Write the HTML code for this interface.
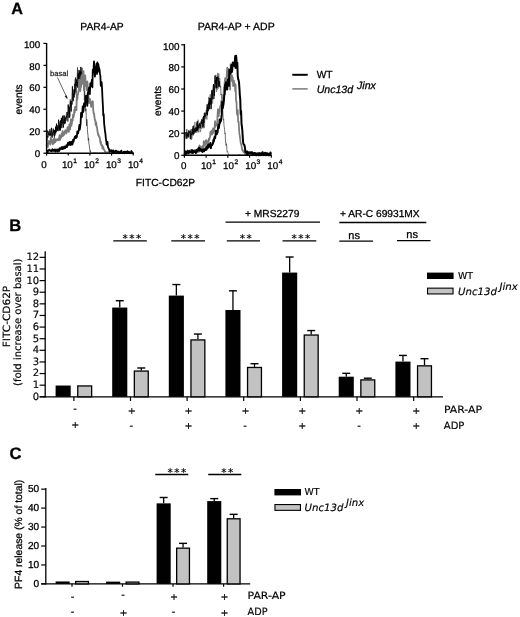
<!DOCTYPE html>
<html><head><meta charset="utf-8"><title>Figure</title>
<style>html,body{margin:0;padding:0;background:#fff}svg{display:block;will-change:transform;opacity:0.999}text{stroke:#000;stroke-width:.28px;paint-order:stroke;text-rendering:geometricPrecision}.dj text,text.dj{stroke-width:.16px}</style>
</head><body>
<svg width="520" height="617" viewBox="0 0 520 617">
<rect width="520" height="617" fill="#fff"/>
<text x="11.20" y="14.20" font-size="16.2" font-family='"Liberation Sans", Arial, sans-serif' font-weight="bold" >A</text>
<text x="9.20" y="231.10" font-size="16.6" font-family='"Liberation Sans", Arial, sans-serif' font-weight="bold" >B</text>
<text x="9.40" y="459.40" font-size="16.6" font-family='"Liberation Sans", Arial, sans-serif' font-weight="bold" >C</text>
<polyline points="46.60,135.50 46.90,134.57 47.20,135.97 47.50,137.48 47.80,136.19 48.10,137.51 48.40,134.54 48.70,130.94 49.00,135.78 49.30,136.00 49.60,132.83 49.90,133.06 50.20,133.55 50.50,136.20 50.80,133.47 51.10,131.20 51.40,136.73 51.70,134.00 52.00,137.90 52.30,135.94 52.60,137.33 52.90,132.45 53.20,135.25 53.50,130.51 53.80,130.61 54.10,131.40 54.40,138.14 54.70,132.00 55.00,130.30 55.30,129.58 55.60,134.36 55.90,130.93 56.20,132.24 56.50,131.50 56.80,125.42 57.10,130.96 57.40,128.26 57.70,125.08 58.00,129.45 58.30,127.67 58.60,126.68 58.90,126.54 59.20,130.45 59.50,125.94 59.80,121.44 60.10,130.73 60.40,122.49 60.70,124.66 61.00,126.93 61.30,117.76 61.60,121.64 61.90,128.02 62.20,123.40 62.50,121.39 62.80,123.74 63.10,120.31 63.40,122.43 63.70,119.36 64.00,116.11 64.30,123.16 64.60,119.53 64.90,121.46 65.20,118.82 65.50,123.18 65.80,120.47 66.10,118.51 66.40,113.71 66.70,112.07 67.00,120.85 67.30,118.17 67.60,111.89 67.90,121.62 68.20,114.82 68.50,112.37 68.80,105.84 69.10,107.13 69.40,110.35 69.70,109.55 70.00,108.06 70.30,99.42 70.60,106.82 70.90,105.24 71.20,101.28 71.50,102.28 71.80,101.48 72.10,104.56 72.40,98.32 72.70,99.20 73.00,90.41 73.30,91.67 73.60,93.77 73.90,89.23 74.20,92.69 74.50,84.22 74.80,88.03 75.10,83.50 75.40,91.70 75.70,82.19 76.00,92.13 76.30,93.26 76.60,83.37 76.90,85.81 77.20,79.37 77.50,67.38 77.80,83.30 78.10,81.54 78.40,76.38 78.70,74.15 79.00,77.19 79.30,76.71 79.60,71.02 79.90,71.50 80.20,79.88 80.50,74.24 80.80,73.30 81.10,79.13 81.40,71.57 81.70,77.96 82.00,67.77 82.30,72.25 82.60,72.93 82.90,77.20 83.20,75.71 83.50,87.24 83.80,84.94 84.10,82.31 84.40,100.27 84.70,90.94 85.00,107.27 85.30,100.04 85.60,111.19 85.90,108.65 86.20,115.50 86.50,125.75 86.80,119.26 87.10,121.75 87.40,129.55 87.70,133.04 88.00,135.58 88.30,140.45 88.60,138.22 88.90,143.77 89.20,144.76 89.50,147.94 89.80,149.50 90.10,151.74 90.40,150.60 90.70,152.86 91.00,152.85 91.30,153.20 91.60,153.20 91.90,153.20 92.20,153.20 92.50,153.20 92.80,153.20 93.10,153.20 93.40,153.20 93.70,153.20 94.00,152.60 94.30,153.20 94.60,153.20 94.90,153.08 95.20,152.69 95.50,153.20 95.80,153.20 96.10,153.20 96.40,153.20 96.70,152.93 97.00,153.20 97.30,153.17 97.60,153.20 97.90,153.04 98.20,153.20 98.50,153.20 98.80,153.20 99.10,153.20 99.40,152.72 99.70,153.20 100.00,153.09 100.30,153.20 100.60,153.20 100.90,153.20 101.20,152.97 101.50,153.20 101.80,153.20 102.10,153.19 102.40,152.78 102.70,152.95 103.00,153.06 103.30,153.20 103.60,153.20 103.90,152.86 104.20,152.85 104.50,153.20 104.80,153.00 105.10,152.92 105.40,152.90 105.70,152.87 106.00,153.20 106.30,152.65 106.60,153.20 106.90,152.89 107.20,153.02 107.50,152.88 107.80,152.52 108.10,152.66 108.40,153.20 108.70,153.20 109.00,152.91 109.30,153.20 109.60,153.20 109.90,152.90 110.20,153.20 110.50,153.20 110.80,153.11 111.10,153.18 111.40,153.20 111.70,153.19 112.00,153.20 112.30,153.20 112.60,153.20 112.90,153.20 113.20,153.20 113.50,153.02 113.80,153.20 114.10,153.05 114.40,153.20 114.70,153.20 115.00,153.20 115.30,153.20 115.60,153.13 115.90,153.20 116.20,153.07 116.50,153.08 116.80,152.47 117.10,153.20 117.40,152.88 117.70,153.20 118.00,153.20 118.30,153.20 118.60,153.20 118.90,152.93 119.20,153.20 119.50,153.17 119.80,153.20 120.10,152.78 120.40,153.20 120.70,153.20 121.00,153.20 121.30,153.20 121.60,153.20 121.90,153.20 122.20,152.72 122.50,153.18 122.80,153.20 123.10,153.20 123.40,152.79 123.70,153.14 124.00,153.18 124.30,153.20 124.60,153.19 124.90,152.91 125.20,153.00 125.50,153.12 125.80,153.20 126.10,153.02 126.40,153.20 126.70,152.81 127.00,153.20 127.30,153.20 127.60,153.20 127.90,153.20 128.20,152.58 128.50,152.67 128.80,153.20 129.10,152.92 129.40,153.06 129.70,153.20 130.00,153.11 130.30,153.20 130.60,153.17 130.90,153.20 131.20,153.20 131.50,153.20 131.80,152.77 132.10,153.08 132.40,153.20 132.70,152.65 133.00,153.20" fill="none" stroke="#333" stroke-width="0.75" stroke-linejoin="round"/>
<polyline points="46.60,136.67 46.90,140.83 47.20,130.50 47.50,132.18 47.80,132.18 48.10,132.80 48.40,134.37 48.70,133.91 49.00,135.22 49.30,134.94 49.60,134.01 49.90,129.33 50.20,132.10 50.50,133.80 50.80,135.22 51.10,135.18 51.40,127.78 51.70,131.06 52.00,132.24 52.30,133.36 52.60,135.64 52.90,131.99 53.20,128.64 53.50,132.62 53.80,131.84 54.10,131.59 54.40,130.24 54.70,135.81 55.00,130.96 55.30,132.86 55.60,126.64 55.90,132.14 56.20,127.22 56.50,123.66 56.80,129.82 57.10,130.57 57.40,127.47 57.70,127.88 58.00,131.18 58.30,125.64 58.60,119.68 58.90,127.70 59.20,127.22 59.50,130.06 59.80,124.72 60.10,130.29 60.40,129.51 60.70,120.23 61.00,128.22 61.30,120.37 61.60,118.37 61.90,122.94 62.20,121.51 62.50,115.78 62.80,123.86 63.10,125.01 63.40,127.56 63.70,121.54 64.00,115.27 64.30,116.85 64.60,124.11 64.90,123.30 65.20,121.38 65.50,117.59 65.80,119.19 66.10,116.87 66.40,115.83 66.70,117.72 67.00,115.94 67.30,114.18 67.60,114.79 67.90,111.49 68.20,104.51 68.50,109.26 68.80,110.72 69.10,117.88 69.40,107.15 69.70,117.32 70.00,113.82 70.30,101.82 70.60,101.45 70.90,104.65 71.20,111.50 71.50,103.63 71.80,104.09 72.10,96.10 72.40,86.35 72.70,95.96 73.00,100.16 73.30,101.18 73.60,93.96 73.90,93.48 74.20,97.47 74.50,88.84 74.80,94.62 75.10,80.03 75.40,78.75 75.70,77.57 76.00,86.08 76.30,79.42 76.60,82.55 76.90,83.35 77.20,82.31 77.50,87.45 77.80,87.66 78.10,73.24 78.40,78.69 78.70,75.51 79.00,69.95 79.30,86.45 79.60,79.87 79.90,73.29 80.20,71.62 80.50,76.19 80.80,66.95 81.10,71.86 81.40,80.77" fill="none" stroke="#000" stroke-width="0.85" stroke-linejoin="round"/>
<polyline points="46.60,145.94 47.02,143.03 47.44,143.35 47.86,146.91 48.28,141.48 48.70,142.47 49.12,141.02 49.54,143.67 49.96,143.32 50.38,144.53 50.80,138.02 51.22,142.49 51.64,139.18 52.06,142.90 52.48,141.25 52.90,144.34 53.32,141.81 53.74,139.09 54.16,143.01 54.58,138.47 55.00,139.63 55.42,142.03 55.84,140.80 56.26,140.51 56.68,139.45 57.10,140.07 57.52,140.32 57.94,138.95 58.36,140.09 58.78,140.31 59.20,137.41 59.62,135.10 60.04,139.89 60.46,136.27 60.88,137.36 61.30,137.75 61.72,133.36 62.14,136.08 62.56,131.19 62.98,136.00 63.40,132.90 63.82,133.89 64.24,134.71 64.66,131.11 65.08,132.45 65.50,130.18 65.92,131.34 66.34,133.49 66.76,130.62 67.18,129.81 67.60,127.07 68.02,131.41 68.44,128.32 68.86,131.84 69.28,124.50 69.70,128.29 70.12,129.41 70.54,123.53 70.96,119.17 71.38,125.85 71.80,123.25 72.22,120.87 72.64,120.75 73.06,114.61 73.48,117.08 73.90,115.46 74.32,109.72 74.74,112.73 75.16,106.91 75.58,110.20 76.00,109.43 76.42,110.12 76.84,94.04 77.26,99.94 77.68,95.37 78.10,94.08 78.52,90.92 78.94,89.23 79.36,79.65 79.78,90.50 80.20,91.12 80.62,87.10 81.04,86.90 81.46,76.04 81.88,75.04 82.30,82.46 82.72,83.78 83.14,78.72 83.56,71.03 83.98,90.49 84.40,75.54 84.82,83.73 85.24,75.36 85.66,85.96 86.08,83.57 86.50,90.05 86.92,89.33 87.34,81.30 87.76,85.86 88.18,93.05 88.60,97.02 89.02,103.13 89.44,98.97 89.86,98.85 90.28,100.35 90.70,101.69 91.12,106.81 91.54,104.18 91.96,105.37 92.38,101.91 92.80,101.25 93.22,109.61 93.64,113.39 94.06,113.30 94.48,117.35 94.90,120.02 95.32,120.19 95.74,125.18 96.16,122.41 96.58,126.40 97.00,127.45 97.42,130.53 97.84,133.31 98.26,135.24 98.68,135.02 99.10,137.14 99.52,136.93 99.94,138.90 100.36,142.92 100.78,141.71 101.20,145.07 101.62,144.75 102.04,145.16 102.46,148.65 102.88,146.49 103.30,147.37 103.72,148.69 104.14,149.89 104.56,150.52 104.98,151.65 105.40,151.75 105.82,152.66 106.24,152.44 106.66,153.20 107.08,152.36 107.50,152.46 107.92,152.71 108.34,152.97 108.76,152.19 109.18,153.20 109.60,152.31 110.02,152.50 110.44,152.47 110.86,152.40 111.28,153.20 111.70,152.93 112.12,152.21 112.54,152.38 112.96,152.57 113.38,153.20 113.80,152.31 114.22,151.80 114.64,151.94 115.06,152.58 115.48,153.20 115.90,152.01 116.32,152.90 116.74,153.20 117.16,152.49 117.58,153.20 118.00,153.20 118.42,153.20 118.84,151.78 119.26,153.12 119.68,152.61 120.10,151.41 120.52,151.54 120.94,152.93 121.36,153.04 121.78,153.20 122.20,153.20 122.62,152.52 123.04,152.55 123.46,152.79 123.88,152.07 124.30,153.20 124.72,152.94 125.14,152.30 125.56,152.43 125.98,152.04 126.40,152.59 126.82,153.17 127.24,152.63 127.66,153.20 128.08,153.20 128.50,152.47 128.92,152.99 129.34,152.70 129.76,153.20 130.18,153.20 130.60,153.20 131.02,153.20 131.44,153.20 131.86,153.20 132.28,152.26 132.70,152.69 133.12,153.20" fill="none" stroke="#7a7a7a" stroke-width="1.8" stroke-linejoin="round"/>
<polyline points="46.60,151.21 47.02,150.56 47.44,153.20 47.86,151.23 48.28,150.66 48.70,150.52 49.12,149.66 49.54,150.10 49.96,150.74 50.38,150.73 50.80,150.30 51.22,151.36 51.64,150.93 52.06,150.13 52.48,149.25 52.90,150.95 53.32,150.83 53.74,150.61 54.16,149.64 54.58,150.74 55.00,149.47 55.42,151.47 55.84,150.80 56.26,150.78 56.68,149.85 57.10,149.42 57.52,151.55 57.94,150.85 58.36,149.49 58.78,150.29 59.20,151.00 59.62,148.21 60.04,148.58 60.46,148.40 60.88,149.28 61.30,147.42 61.72,148.67 62.14,146.94 62.56,149.13 62.98,148.90 63.40,147.45 63.82,148.40 64.24,146.50 64.66,146.86 65.08,148.22 65.50,146.75 65.92,147.15 66.34,145.27 66.76,147.21 67.18,146.78 67.60,144.30 68.02,142.65 68.44,142.55 68.86,144.95 69.28,144.28 69.70,141.79 70.12,143.98 70.54,144.96 70.96,142.74 71.38,141.75 71.80,143.55 72.22,144.61 72.64,143.86 73.06,139.61 73.48,141.79 73.90,139.94 74.32,138.55 74.74,137.01 75.16,138.26 75.58,135.81 76.00,138.09 76.42,136.26 76.84,137.07 77.26,131.47 77.68,133.26 78.10,133.42 78.52,130.94 78.94,129.05 79.36,125.02 79.78,129.74 80.20,126.70 80.62,123.28 81.04,112.86 81.46,115.68 81.88,117.15 82.30,112.66 82.72,106.32 83.14,112.10 83.56,110.75 83.98,103.51 84.40,104.89 84.82,103.10 85.24,106.26 85.66,96.15 86.08,95.74 86.50,98.87 86.92,97.27 87.34,105.83 87.76,92.84 88.18,93.61 88.60,89.84 89.02,87.65 89.44,90.34 89.86,94.21 90.28,83.50 90.70,86.43 91.12,82.74 91.54,82.24 91.96,79.64 92.38,87.25 92.80,69.60 93.22,72.61 93.64,67.12 94.06,61.44 94.48,69.25 94.90,76.58 95.32,70.93 95.74,71.27 96.16,66.60 96.58,63.61 97.00,73.91 97.42,62.31 97.84,72.02 98.26,63.81 98.68,66.50 99.10,68.49 99.52,69.27 99.94,73.43 100.36,75.69 100.78,85.82 101.20,84.04 101.62,82.13 102.04,88.37 102.46,97.67 102.88,105.46 103.30,115.44 103.72,113.99 104.14,123.69 104.56,127.12 104.98,131.08 105.40,133.56 105.82,138.10 106.24,140.75 106.66,144.53 107.08,144.56 107.50,141.87 107.92,146.61 108.34,148.08 108.76,148.50 109.18,149.71 109.60,151.52 110.02,150.92 110.44,150.18 110.86,150.89 111.28,151.19 111.70,150.21 112.12,152.16 112.54,151.55 112.96,152.06 113.38,150.44 113.80,153.20 114.22,152.23 114.64,152.14 115.06,151.18 115.48,151.25 115.90,150.62 116.32,153.05 116.74,151.18 117.16,152.05 117.58,152.37 118.00,151.40 118.42,152.61 118.84,153.20 119.26,152.19 119.68,153.13 120.10,152.45 120.52,151.64 120.94,151.70 121.36,150.68 121.78,152.15 122.20,153.20 122.62,152.64 123.04,152.79 123.46,153.04 123.88,151.71 124.30,152.61 124.72,153.20 125.14,151.55 125.56,152.22 125.98,151.85 126.40,152.07 126.82,151.66 127.24,152.16 127.66,151.20 128.08,151.88 128.50,151.92 128.92,151.92 129.34,153.20 129.76,152.42 130.18,152.51 130.60,152.14 131.02,153.20 131.44,151.01 131.86,152.27 132.28,153.20 132.70,153.20 133.12,152.63" fill="none" stroke="#000" stroke-width="1.8" stroke-linejoin="round"/>
<line x1="46.60" y1="43.00" x2="46.60" y2="153.85" stroke="#000" stroke-width="1.4" stroke-linecap="butt"/>
<line x1="45.90" y1="153.20" x2="133.80" y2="153.20" stroke="#000" stroke-width="1.4" stroke-linecap="butt"/>
<line x1="43.40" y1="153.20" x2="46.60" y2="153.20" stroke="#000" stroke-width="1.2" stroke-linecap="butt"/>
<text x="40.20" y="156.90" font-size="9.75" font-family='"Liberation Sans", Arial, sans-serif' text-anchor="end" >0</text>
<line x1="43.40" y1="131.24" x2="46.60" y2="131.24" stroke="#000" stroke-width="1.2" stroke-linecap="butt"/>
<text x="40.20" y="134.94" font-size="9.75" font-family='"Liberation Sans", Arial, sans-serif' text-anchor="end" >20</text>
<line x1="43.40" y1="109.28" x2="46.60" y2="109.28" stroke="#000" stroke-width="1.2" stroke-linecap="butt"/>
<text x="40.20" y="112.98" font-size="9.75" font-family='"Liberation Sans", Arial, sans-serif' text-anchor="end" >40</text>
<line x1="43.40" y1="87.32" x2="46.60" y2="87.32" stroke="#000" stroke-width="1.2" stroke-linecap="butt"/>
<text x="40.20" y="91.32" font-size="9.75" font-family='"Liberation Sans", Arial, sans-serif' text-anchor="end" >60</text>
<line x1="43.40" y1="65.36" x2="46.60" y2="65.36" stroke="#000" stroke-width="1.2" stroke-linecap="butt"/>
<text x="40.20" y="69.86" font-size="9.75" font-family='"Liberation Sans", Arial, sans-serif' text-anchor="end" >80</text>
<line x1="43.40" y1="43.40" x2="46.60" y2="43.40" stroke="#000" stroke-width="1.2" stroke-linecap="butt"/>
<text x="40.20" y="48.40" font-size="9.75" font-family='"Liberation Sans", Arial, sans-serif' text-anchor="end" >100</text>
<line x1="46.60" y1="153.20" x2="46.60" y2="155.60" stroke="#000" stroke-width="1.2" stroke-linecap="butt"/>
<text x="44.10" y="168.00" font-size="9.8" font-family='"Liberation Sans", Arial, sans-serif' text-anchor="middle" >0</text>
<line x1="68.25" y1="153.20" x2="68.25" y2="155.60" stroke="#000" stroke-width="1.2" stroke-linecap="butt"/>
<text x="61.90" y="168.00" font-size="9.8" font-family='"Liberation Sans", Arial, sans-serif'>10<tspan font-size="6.6" dx="0.5" dy="-5.4">1</tspan></text>
<line x1="89.90" y1="153.20" x2="89.90" y2="155.60" stroke="#000" stroke-width="1.2" stroke-linecap="butt"/>
<text x="83.90" y="168.00" font-size="9.8" font-family='"Liberation Sans", Arial, sans-serif'>10<tspan font-size="6.6" dx="0.5" dy="-5.4">2</tspan></text>
<line x1="111.55" y1="153.20" x2="111.55" y2="155.60" stroke="#000" stroke-width="1.2" stroke-linecap="butt"/>
<text x="105.90" y="168.00" font-size="9.8" font-family='"Liberation Sans", Arial, sans-serif'>10<tspan font-size="6.6" dx="0.5" dy="-5.4">3</tspan></text>
<line x1="133.20" y1="153.20" x2="133.20" y2="155.60" stroke="#000" stroke-width="1.2" stroke-linecap="butt"/>
<text x="127.90" y="168.00" font-size="9.8" font-family='"Liberation Sans", Arial, sans-serif'>10<tspan font-size="6.6" dx="0.5" dy="-5.4">4</tspan></text>
<text x="102.00" y="29.60" font-size="10.3" font-family='"Liberation Sans", Arial, sans-serif' text-anchor="middle" >PAR4-AP</text>
<text transform="translate(21.5,99.40) rotate(-90)" font-size="10.2" font-family='"Liberation Sans", Arial, sans-serif' text-anchor="middle">events</text>
<text x="50.00" y="76.30" font-size="7.6" font-family='"Liberation Sans", Arial, sans-serif' fill="#222" style="stroke:#222;stroke-width:.25px">basal</text>
<line x1="57.50" y1="77.50" x2="67.00" y2="98.00" stroke="#222" stroke-width="0.7" stroke-linecap="butt"/>
<polygon points="67.6,99.4 64.6,96.2 66.9,95.2" fill="#222"/>
<polyline points="184.40,136.39 184.70,137.71 185.00,135.71 185.30,137.28 185.60,134.38 185.90,137.23 186.20,135.50 186.50,132.97 186.80,129.08 187.10,137.40 187.40,135.99 187.70,136.76 188.00,132.75 188.30,137.25 188.60,135.53 188.90,134.27 189.20,136.37 189.50,136.13 189.80,134.76 190.10,138.56 190.40,136.77 190.70,134.02 191.00,132.43 191.30,133.06 191.60,136.86 191.90,133.36 192.20,129.97 192.50,130.37 192.80,131.79 193.10,133.68 193.40,129.59 193.70,132.54 194.00,133.90 194.30,132.77 194.60,126.70 194.90,129.74 195.20,127.08 195.50,131.22 195.80,127.28 196.10,131.19 196.40,129.83 196.70,122.55 197.00,126.98 197.30,130.21 197.60,128.86 197.90,127.47 198.20,124.78 198.50,129.18 198.80,132.38 199.10,128.07 199.40,126.98 199.70,126.45 200.00,122.78 200.30,125.33 200.60,123.65 200.90,128.84 201.20,122.93 201.50,119.11 201.80,122.62 202.10,123.47 202.40,123.11 202.70,117.58 203.00,125.08 203.30,121.97 203.60,119.57 203.90,118.03 204.20,121.07 204.50,118.08 204.80,119.05 205.10,116.75 205.40,116.55 205.70,118.91 206.00,114.16 206.30,110.07 206.60,115.39 206.90,111.88 207.20,107.66 207.50,112.98 207.80,107.65 208.10,111.31 208.40,102.44 208.70,97.19 209.00,97.35 209.30,104.87 209.60,100.38 209.90,101.87 210.20,101.09 210.50,94.62 210.80,104.94 211.10,94.72 211.40,98.18 211.70,91.43 212.00,95.41 212.30,98.00 212.60,93.22 212.90,90.41 213.20,92.40 213.50,89.59 213.80,92.94 214.10,98.90 214.40,85.07 214.70,85.09 215.00,86.63 215.30,86.15 215.60,81.07 215.90,86.81 216.20,87.10 216.50,83.98 216.80,76.97 217.10,87.87 217.40,75.71 217.70,83.50 218.00,85.11 218.30,73.88 218.60,80.72 218.90,86.81 219.20,83.17 219.50,78.00 219.80,78.37 220.10,87.38 220.40,85.58 220.70,86.23 221.00,95.02 221.30,93.94 221.60,98.56 221.90,103.56 222.20,106.39 222.50,107.55 222.80,111.41 223.10,117.12 223.40,120.31 223.70,119.33 224.00,125.79 224.30,127.28 224.60,129.38 224.90,133.78 225.20,132.96 225.50,142.36 225.80,142.00 226.10,145.76 226.40,143.73 226.70,145.56 227.00,151.86 227.30,151.82 227.60,151.48 227.90,152.73 228.20,153.44 228.50,154.51 228.80,154.92 229.10,155.10 229.40,155.30 229.70,154.99 230.00,155.30 230.30,155.11 230.60,155.30 230.90,155.01 231.20,155.30 231.50,155.30 231.80,155.19 232.10,155.30 232.40,155.30 232.70,155.30 233.00,155.30 233.30,155.15 233.60,154.99 233.90,155.30 234.20,154.98 234.50,155.29 234.80,155.30 235.10,155.13 235.40,154.98 235.70,155.30 236.00,155.30 236.30,155.30 236.60,155.27 236.90,155.30 237.20,154.99 237.50,155.30 237.80,155.16 238.10,155.30 238.40,155.19 238.70,155.18 239.00,155.30 239.30,154.69 239.60,155.19 239.90,154.76 240.20,155.01 240.50,155.30 240.80,155.30 241.10,155.17 241.40,155.28 241.70,155.29 242.00,155.30 242.30,155.30 242.60,155.30 242.90,155.30 243.20,155.19 243.50,155.30 243.80,155.30 244.10,155.30 244.40,155.22 244.70,155.30 245.00,155.30 245.30,155.30 245.60,155.30 245.90,155.30 246.20,154.82 246.50,155.30 246.80,155.10 247.10,155.30 247.40,155.21 247.70,155.30 248.00,155.30 248.30,155.13 248.60,154.77 248.90,155.24 249.20,155.26 249.50,155.30 249.80,155.12 250.10,155.30 250.40,155.05 250.70,155.30 251.00,154.77 251.30,155.30 251.60,155.30 251.90,155.03 252.20,155.30 252.50,155.30 252.80,155.30 253.10,155.30 253.40,155.26 253.70,154.56 254.00,154.95 254.30,155.30 254.60,155.30 254.90,155.30 255.20,155.00 255.50,155.30 255.80,155.30 256.10,155.03 256.40,155.04 256.70,155.30 257.00,155.30 257.30,155.30 257.60,155.30 257.90,155.30 258.20,155.07 258.50,155.30 258.80,155.15 259.10,154.73 259.40,154.95 259.70,155.30 260.00,155.04 260.30,154.95 260.60,155.30 260.90,155.30 261.20,155.30 261.50,155.30 261.80,154.85 262.10,155.30 262.40,155.30 262.70,155.30 263.00,155.30 263.30,155.25 263.60,155.22 263.90,155.30 264.20,154.96 264.50,155.30 264.80,155.30 265.10,155.30 265.40,155.26 265.70,155.23 266.00,155.30 266.30,155.30 266.60,155.06 266.90,155.19 267.20,155.30 267.50,154.68 267.80,154.60 268.10,155.30 268.40,155.21 268.70,154.54 269.00,155.06 269.30,155.23 269.60,155.30 269.90,155.30 270.20,155.30 270.50,155.30 270.80,155.07 271.10,155.30" fill="none" stroke="#444" stroke-width="0.75" stroke-linejoin="round"/>
<polyline points="184.40,137.50 184.70,139.66 185.00,136.07 185.30,138.49 185.60,136.21 185.90,132.37 186.20,134.29 186.50,133.73 186.80,134.05 187.10,134.83 187.40,135.28 187.70,135.71 188.00,132.27 188.30,137.88 188.60,130.18 188.90,134.09 189.20,136.36 189.50,135.35 189.80,135.75 190.10,132.88 190.40,135.50 190.70,129.31 191.00,135.33 191.30,139.99 191.60,134.78 191.90,138.79 192.20,132.12 192.50,128.28 192.80,129.43 193.10,135.87 193.40,133.78 193.70,125.05 194.00,129.78 194.30,130.66 194.60,126.90 194.90,121.94 195.20,125.69 195.50,129.47 195.80,128.54 196.10,127.45 196.40,131.54 196.70,132.92 197.00,128.86 197.30,132.19 197.60,128.85 197.90,128.02 198.20,119.75 198.50,130.88 198.80,128.00 199.10,127.89 199.40,125.44 199.70,122.94 200.00,128.29 200.30,129.25 200.60,132.03 200.90,129.14 201.20,123.42 201.50,124.99 201.80,128.69 202.10,125.64 202.40,123.45 202.70,120.97 203.00,124.61 203.30,122.63 203.60,128.26 203.90,124.99 204.20,113.10 204.50,128.05 204.80,119.56 205.10,116.21 205.40,117.72 205.70,118.60 206.00,114.35 206.30,113.09 206.60,112.42 206.90,119.57 207.20,110.69 207.50,113.13 207.80,110.87 208.10,106.38 208.40,103.55 208.70,101.43 209.00,107.30 209.30,99.52 209.60,97.40 209.90,96.68 210.20,94.52 210.50,101.37 210.80,100.66 211.10,94.65 211.40,105.05 211.70,95.98 212.00,98.96 212.30,97.22 212.60,103.65 212.90,98.24 213.20,92.66 213.50,86.80 213.80,85.30 214.10,90.27 214.40,89.98 214.70,92.75 215.00,85.01 215.30,87.85 215.60,82.16 215.90,74.74 216.20,84.15 216.50,91.83 216.80,87.34 217.10,90.17 217.40,88.15 217.70,72.89 218.00,78.74 218.30,88.68 218.60,76.41 218.90,73.49 219.20,83.66 219.50,86.14" fill="none" stroke="#777" stroke-width="0.8" stroke-linejoin="round"/>
<polyline points="184.40,136.96 184.70,135.40 185.00,134.44 185.30,133.05 185.60,132.84 185.90,132.76 186.20,132.21 186.50,133.72 186.80,138.76 187.10,135.33 187.40,134.14 187.70,135.67 188.00,132.45 188.30,135.36 188.60,136.59 188.90,130.71 189.20,132.38 189.50,133.26 189.80,131.33 190.10,130.78 190.40,132.35 190.70,139.10 191.00,134.48 191.30,133.74 191.60,134.87 191.90,131.69 192.20,128.97 192.50,133.03 192.80,134.49 193.10,126.19 193.40,132.39 193.70,134.23 194.00,130.24 194.30,129.57 194.60,132.34 194.90,128.24 195.20,131.42 195.50,132.39 195.80,129.29 196.10,127.53 196.40,131.10 196.70,128.34 197.00,129.29 197.30,121.23 197.60,130.55 197.90,124.59 198.20,128.24 198.50,128.18 198.80,125.56 199.10,124.81 199.40,123.49 199.70,125.84 200.00,128.19 200.30,127.75 200.60,124.51 200.90,124.03 201.20,121.41 201.50,123.95 201.80,121.79 202.10,119.77 202.40,123.08 202.70,127.37 203.00,125.84 203.30,126.02 203.60,116.09 203.90,122.97 204.20,115.83 204.50,117.20 204.80,112.66 205.10,113.88 205.40,116.46 205.70,115.77 206.00,113.80 206.30,112.47 206.60,113.88 206.90,111.15 207.20,104.32 207.50,115.24 207.80,107.37 208.10,110.75 208.40,105.91 208.70,102.64 209.00,105.11 209.30,101.13 209.60,109.22 209.90,98.10 210.20,103.81 210.50,98.21 210.80,99.06 211.10,109.10 211.40,100.99 211.70,96.19 212.00,89.89 212.30,94.09 212.60,93.30 212.90,99.29 213.20,86.59 213.50,84.06 213.80,90.61 214.10,90.76 214.40,95.86 214.70,84.29 215.00,75.56 215.30,83.32 215.60,80.08 215.90,82.40 216.20,88.34 216.50,77.17 216.80,87.86 217.10,82.56 217.40,79.84 217.70,76.59 218.00,78.19 218.30,77.87 218.60,83.75 218.90,86.76 219.20,81.27 219.50,85.38" fill="none" stroke="#000" stroke-width="0.9" stroke-linejoin="round"/>
<polyline points="184.40,153.68 184.82,153.60 185.24,152.87 185.66,154.04 186.08,153.55 186.50,153.77 186.92,152.05 187.34,151.78 187.76,150.23 188.18,153.47 188.60,152.65 189.02,151.07 189.44,152.11 189.86,152.16 190.28,150.11 190.70,152.07 191.12,152.84 191.54,152.96 191.96,151.24 192.38,151.21 192.80,152.88 193.22,152.40 193.64,150.64 194.06,150.41 194.48,151.58 194.90,149.99 195.32,149.87 195.74,152.44 196.16,150.55 196.58,149.51 197.00,150.54 197.42,152.34 197.84,149.86 198.26,148.36 198.68,147.10 199.10,151.88 199.52,145.32 199.94,150.17 200.36,147.16 200.78,146.59 201.20,146.75 201.62,147.75 202.04,149.30 202.46,146.21 202.88,147.79 203.30,150.22 203.72,141.18 204.14,144.13 204.56,141.76 204.98,145.97 205.40,141.33 205.82,140.60 206.24,140.08 206.66,142.31 207.08,143.93 207.50,141.26 207.92,144.73 208.34,143.10 208.76,138.68 209.18,140.35 209.60,137.88 210.02,137.08 210.44,131.71 210.86,132.44 211.28,134.63 211.70,130.58 212.12,134.52 212.54,132.44 212.96,128.23 213.38,132.93 213.80,129.40 214.22,131.31 214.64,126.36 215.06,121.04 215.48,126.91 215.90,123.08 216.32,125.23 216.74,124.61 217.16,123.49 217.58,113.50 218.00,108.98 218.42,113.63 218.84,116.21 219.26,109.90 219.68,112.04 220.10,106.14 220.52,105.91 220.94,103.90 221.36,100.60 221.78,103.13 222.20,100.45 222.62,103.19 223.04,94.86 223.46,95.88 223.88,87.25 224.30,88.15 224.72,81.58 225.14,78.10 225.56,84.84 225.98,80.55 226.40,80.81 226.82,72.56 227.24,67.69 227.66,71.34 228.08,77.01 228.50,68.82 228.92,83.10 229.34,69.33 229.76,79.71 230.18,89.71 230.60,64.18 231.02,68.96 231.44,80.94 231.86,75.11 232.28,77.11 232.70,77.24 233.12,86.11 233.54,84.00 233.96,80.54 234.38,84.60 234.80,83.36 235.22,91.12 235.64,84.75 236.06,101.21 236.48,101.42 236.90,113.49 237.32,114.89 237.74,110.14 238.16,121.86 238.58,121.56 239.00,127.58 239.42,134.23 239.84,135.85 240.26,139.61 240.68,142.91 241.10,144.14 241.52,145.64 241.94,148.74 242.36,150.36 242.78,150.12 243.20,151.81 243.62,152.13 244.04,151.19 244.46,152.87 244.88,153.78 245.30,154.09 245.72,154.85 246.14,155.08 246.56,155.24 246.98,154.76 247.40,154.79 247.82,153.84 248.24,154.79 248.66,154.63 249.08,155.30 249.50,153.14 249.92,154.08 250.34,153.04 250.76,153.86 251.18,153.31 251.60,154.74 252.02,153.96 252.44,152.34 252.86,155.30 253.28,153.61 253.70,153.19 254.12,154.25 254.54,153.98 254.96,153.56 255.38,155.17 255.80,154.29 256.22,155.30 256.64,155.22 257.06,155.18 257.48,154.79 257.90,154.55 258.32,154.31 258.74,155.30 259.16,153.04 259.58,153.74 260.00,154.11 260.42,155.03 260.84,154.82 261.26,154.29 261.68,154.41 262.10,155.30 262.52,154.16 262.94,152.34 263.36,155.30 263.78,153.97 264.20,154.50 264.62,154.92 265.04,153.68 265.46,155.30 265.88,154.71 266.30,153.63 266.72,155.03 267.14,155.23 267.56,154.79 267.98,155.27 268.40,153.60 268.82,155.30 269.24,154.19 269.66,155.30 270.08,154.38 270.50,155.04 270.92,155.30" fill="none" stroke="#7a7a7a" stroke-width="1.7" stroke-linejoin="round"/>
<polyline points="184.40,153.10 184.82,153.92 185.24,153.33 185.66,151.59 186.08,153.77 186.50,153.67 186.92,151.43 187.34,152.52 187.76,151.18 188.18,152.20 188.60,153.23 189.02,152.42 189.44,151.14 189.86,151.33 190.28,152.15 190.70,152.04 191.12,152.13 191.54,152.53 191.96,149.96 192.38,151.81 192.80,152.91 193.22,152.18 193.64,150.87 194.06,150.88 194.48,151.63 194.90,152.13 195.32,151.28 195.74,153.03 196.16,152.53 196.58,150.08 197.00,151.41 197.42,150.33 197.84,149.23 198.26,149.78 198.68,150.41 199.10,147.76 199.52,149.40 199.94,150.54 200.36,149.08 200.78,149.37 201.20,150.86 201.62,149.58 202.04,149.77 202.46,152.02 202.88,149.57 203.30,149.61 203.72,149.71 204.14,151.24 204.56,149.39 204.98,148.85 205.40,148.55 205.82,150.03 206.24,147.21 206.66,149.62 207.08,147.87 207.50,145.23 207.92,148.02 208.34,147.45 208.76,144.61 209.18,146.68 209.60,146.17 210.02,144.85 210.44,142.95 210.86,148.29 211.28,145.42 211.70,145.34 212.12,145.08 212.54,144.23 212.96,143.38 213.38,140.08 213.80,141.59 214.22,138.43 214.64,136.78 215.06,138.38 215.48,135.37 215.90,130.67 216.32,132.87 216.74,134.30 217.16,131.65 217.58,132.51 218.00,127.83 218.42,124.68 218.84,128.09 219.26,124.87 219.68,119.40 220.10,122.91 220.52,119.31 220.94,121.06 221.36,117.81 221.78,114.15 222.20,101.95 222.62,108.50 223.04,106.48 223.46,104.34 223.88,100.52 224.30,94.93 224.72,94.47 225.14,84.38 225.56,89.80 225.98,82.56 226.40,85.62 226.82,82.21 227.24,89.39 227.66,81.57 228.08,79.50 228.50,78.60 228.92,85.86 229.34,69.88 229.76,74.20 230.18,72.92 230.60,70.77 231.02,69.36 231.44,64.95 231.86,72.00 232.28,69.23 232.70,62.57 233.12,62.77 233.54,64.87 233.96,65.34 234.38,66.14 234.80,61.69 235.22,56.04 235.64,68.02 236.06,55.63 236.48,59.71 236.90,66.86 237.32,62.63 237.74,75.82 238.16,79.15 238.58,80.02 239.00,82.18 239.42,88.15 239.84,95.29 240.26,99.31 240.68,114.10 241.10,111.09 241.52,123.81 241.94,126.48 242.36,130.86 242.78,137.71 243.20,142.98 243.62,144.40 244.04,144.38 244.46,145.27 244.88,147.25 245.30,151.11 245.72,152.29 246.14,152.67 246.56,151.62 246.98,154.18 247.40,151.55 247.82,153.30 248.24,153.83 248.66,152.95 249.08,152.41 249.50,153.00 249.92,152.44 250.34,153.22 250.76,152.35 251.18,152.37 251.60,153.49 252.02,152.26 252.44,153.33 252.86,153.42 253.28,154.28 253.70,153.78 254.12,152.94 254.54,154.68 254.96,153.09 255.38,153.37 255.80,153.45 256.22,155.30 256.64,153.82 257.06,153.23 257.48,154.41 257.90,153.74 258.32,155.30 258.74,153.32 259.16,154.44 259.58,153.21 260.00,155.30 260.42,153.41 260.84,154.19 261.26,153.35 261.68,154.78 262.10,154.55 262.52,152.22 262.94,154.76 263.36,154.67 263.78,154.34 264.20,154.97 264.62,153.17 265.04,152.75 265.46,154.76 265.88,155.30 266.30,153.25 266.72,153.32 267.14,153.57 267.56,153.32 267.98,154.99 268.40,154.44 268.82,155.30 269.24,155.30 269.66,153.55 270.08,154.92 270.50,152.52 270.92,154.34" fill="none" stroke="#000" stroke-width="2.0" stroke-linejoin="round"/>
<line x1="184.40" y1="44.00" x2="184.40" y2="155.95" stroke="#000" stroke-width="1.4" stroke-linecap="butt"/>
<line x1="183.70" y1="155.30" x2="271.88" y2="155.30" stroke="#000" stroke-width="1.4" stroke-linecap="butt"/>
<line x1="181.20" y1="155.30" x2="184.40" y2="155.30" stroke="#000" stroke-width="1.2" stroke-linecap="butt"/>
<text x="179.40" y="159.00" font-size="9.9" font-family='"Liberation Sans", Arial, sans-serif' text-anchor="end" >0</text>
<line x1="181.20" y1="133.20" x2="184.40" y2="133.20" stroke="#000" stroke-width="1.2" stroke-linecap="butt"/>
<text x="179.40" y="136.90" font-size="9.9" font-family='"Liberation Sans", Arial, sans-serif' text-anchor="end" >20</text>
<line x1="181.20" y1="111.10" x2="184.40" y2="111.10" stroke="#000" stroke-width="1.2" stroke-linecap="butt"/>
<text x="179.40" y="114.80" font-size="9.9" font-family='"Liberation Sans", Arial, sans-serif' text-anchor="end" >40</text>
<line x1="181.20" y1="89.00" x2="184.40" y2="89.00" stroke="#000" stroke-width="1.2" stroke-linecap="butt"/>
<text x="179.40" y="92.70" font-size="9.9" font-family='"Liberation Sans", Arial, sans-serif' text-anchor="end" >60</text>
<line x1="181.20" y1="66.90" x2="184.40" y2="66.90" stroke="#000" stroke-width="1.2" stroke-linecap="butt"/>
<text x="179.40" y="71.00" font-size="9.9" font-family='"Liberation Sans", Arial, sans-serif' text-anchor="end" >80</text>
<line x1="181.20" y1="44.80" x2="184.40" y2="44.80" stroke="#000" stroke-width="1.2" stroke-linecap="butt"/>
<text x="179.40" y="50.40" font-size="9.9" font-family='"Liberation Sans", Arial, sans-serif' text-anchor="end" >100</text>
<line x1="184.40" y1="155.30" x2="184.40" y2="157.70" stroke="#000" stroke-width="1.2" stroke-linecap="butt"/>
<text x="183.75" y="169.40" font-size="9.8" font-family='"Liberation Sans", Arial, sans-serif' text-anchor="middle" >0</text>
<line x1="206.12" y1="155.30" x2="206.12" y2="157.70" stroke="#000" stroke-width="1.2" stroke-linecap="butt"/>
<text x="200.90" y="169.40" font-size="9.8" font-family='"Liberation Sans", Arial, sans-serif'>10<tspan font-size="6.6" dx="0.5" dy="-5.4">1</tspan></text>
<line x1="227.84" y1="155.30" x2="227.84" y2="157.70" stroke="#000" stroke-width="1.2" stroke-linecap="butt"/>
<text x="223.05" y="169.40" font-size="9.8" font-family='"Liberation Sans", Arial, sans-serif'>10<tspan font-size="6.6" dx="0.5" dy="-5.4">2</tspan></text>
<line x1="249.56" y1="155.30" x2="249.56" y2="157.70" stroke="#000" stroke-width="1.2" stroke-linecap="butt"/>
<text x="245.20" y="169.40" font-size="9.8" font-family='"Liberation Sans", Arial, sans-serif'>10<tspan font-size="6.6" dx="0.5" dy="-5.4">3</tspan></text>
<line x1="271.28" y1="155.30" x2="271.28" y2="157.70" stroke="#000" stroke-width="1.2" stroke-linecap="butt"/>
<text x="267.35" y="169.40" font-size="9.8" font-family='"Liberation Sans", Arial, sans-serif'>10<tspan font-size="6.6" dx="0.5" dy="-5.4">4</tspan></text>
<text x="236.20" y="29.50" font-size="10.5" font-family='"Liberation Sans", Arial, sans-serif' text-anchor="middle" >PAR4-AP + ADP</text>
<text transform="translate(161.3,100.95) rotate(-90)" font-size="10.2" font-family='"Liberation Sans", Arial, sans-serif' text-anchor="middle">events</text>
<text x="135.80" y="185.80" font-size="10.25" font-family='"Liberation Sans", Arial, sans-serif' >FITC-CD62P</text>
<line x1="292.30" y1="74.80" x2="307.70" y2="74.80" stroke="#000" stroke-width="2.0" stroke-linecap="butt"/>
<line x1="292.30" y1="88.90" x2="307.70" y2="88.90" stroke="#707070" stroke-width="1.4" stroke-linecap="butt"/>
<text x="316.70" y="78.00" font-size="10.2" font-family='"Liberation Sans", Arial, sans-serif' >WT</text>
<text x="316.7" y="93.3" font-size="10.55" font-style="italic" font-family='"Liberation Sans", Arial, sans-serif'>Unc13d<tspan dx="4.0" dy="-4.3">Jinx</tspan></text>
<line x1="45.20" y1="251.20" x2="45.20" y2="397.45" stroke="#000" stroke-width="1.3" stroke-linecap="butt"/>
<line x1="39.60" y1="396.80" x2="443.00" y2="396.80" stroke="#000" stroke-width="1.3" stroke-linecap="butt"/>
<line x1="39.60" y1="396.80" x2="45.20" y2="396.80" stroke="#000" stroke-width="1.2" stroke-linecap="butt"/>
<text x="39.20" y="399.70" font-size="10" font-family='"DejaVu Sans", Verdana, sans-serif' text-anchor="end" class="dj">0</text>
<line x1="39.60" y1="385.18" x2="45.20" y2="385.18" stroke="#000" stroke-width="1.2" stroke-linecap="butt"/>
<text x="39.20" y="388.08" font-size="10" font-family='"DejaVu Sans", Verdana, sans-serif' text-anchor="end" class="dj">1</text>
<line x1="39.60" y1="373.56" x2="45.20" y2="373.56" stroke="#000" stroke-width="1.2" stroke-linecap="butt"/>
<text x="39.20" y="376.46" font-size="10" font-family='"DejaVu Sans", Verdana, sans-serif' text-anchor="end" class="dj">2</text>
<line x1="39.60" y1="361.94" x2="45.20" y2="361.94" stroke="#000" stroke-width="1.2" stroke-linecap="butt"/>
<text x="39.20" y="364.84" font-size="10" font-family='"DejaVu Sans", Verdana, sans-serif' text-anchor="end" class="dj">3</text>
<line x1="39.60" y1="350.32" x2="45.20" y2="350.32" stroke="#000" stroke-width="1.2" stroke-linecap="butt"/>
<text x="39.20" y="353.22" font-size="10" font-family='"DejaVu Sans", Verdana, sans-serif' text-anchor="end" class="dj">4</text>
<line x1="39.60" y1="338.70" x2="45.20" y2="338.70" stroke="#000" stroke-width="1.2" stroke-linecap="butt"/>
<text x="39.20" y="341.60" font-size="10" font-family='"DejaVu Sans", Verdana, sans-serif' text-anchor="end" class="dj">5</text>
<line x1="39.60" y1="327.08" x2="45.20" y2="327.08" stroke="#000" stroke-width="1.2" stroke-linecap="butt"/>
<text x="39.20" y="329.98" font-size="10" font-family='"DejaVu Sans", Verdana, sans-serif' text-anchor="end" class="dj">6</text>
<line x1="39.60" y1="315.46" x2="45.20" y2="315.46" stroke="#000" stroke-width="1.2" stroke-linecap="butt"/>
<text x="39.20" y="318.36" font-size="10" font-family='"DejaVu Sans", Verdana, sans-serif' text-anchor="end" class="dj">7</text>
<line x1="39.60" y1="303.84" x2="45.20" y2="303.84" stroke="#000" stroke-width="1.2" stroke-linecap="butt"/>
<text x="39.20" y="306.74" font-size="10" font-family='"DejaVu Sans", Verdana, sans-serif' text-anchor="end" class="dj">8</text>
<line x1="39.60" y1="292.22" x2="45.20" y2="292.22" stroke="#000" stroke-width="1.2" stroke-linecap="butt"/>
<text x="39.20" y="295.12" font-size="10" font-family='"DejaVu Sans", Verdana, sans-serif' text-anchor="end" class="dj">9</text>
<line x1="39.60" y1="280.60" x2="45.20" y2="280.60" stroke="#000" stroke-width="1.2" stroke-linecap="butt"/>
<text x="39.20" y="283.50" font-size="10" font-family='"DejaVu Sans", Verdana, sans-serif' text-anchor="end" class="dj">10</text>
<line x1="39.60" y1="268.98" x2="45.20" y2="268.98" stroke="#000" stroke-width="1.2" stroke-linecap="butt"/>
<text x="39.20" y="271.88" font-size="10" font-family='"DejaVu Sans", Verdana, sans-serif' text-anchor="end" class="dj">11</text>
<line x1="39.60" y1="257.36" x2="45.20" y2="257.36" stroke="#000" stroke-width="1.2" stroke-linecap="butt"/>
<text x="39.20" y="260.26" font-size="10" font-family='"DejaVu Sans", Verdana, sans-serif' text-anchor="end" class="dj">12</text>
<text class="dj" transform="translate(9.7,316.5) rotate(-90)" font-size="10" font-family='"DejaVu Sans", Verdana, sans-serif' text-anchor="middle" textLength="61.5" lengthAdjust="spacingAndGlyphs">FITC-CD62P</text>
<text class="dj" transform="translate(21.0,322.3) rotate(-90)" font-size="10" font-family='"DejaVu Sans", Verdana, sans-serif' text-anchor="middle" textLength="127.5" lengthAdjust="spacingAndGlyphs">(fold increase over basal)</text>
<rect x="55.60" y="385.53" width="15.10" height="11.27" fill="#000"/>
<rect x="77.75" y="385.95" width="13.90" height="10.85" fill="#c2c2c2" stroke="#000" stroke-width="1.3"/>
<line x1="73.90" y1="396.80" x2="73.90" y2="401.00" stroke="#000" stroke-width="1.2" stroke-linecap="butt"/>
<text class="dj" x="75.05" y="412.30" font-size="10" font-family='"DejaVu Sans", Verdana, sans-serif' text-anchor="middle">-</text>
<text class="dj" x="75.35" y="428.20" font-size="9.6" font-family='"DejaVu Sans", Verdana, sans-serif' text-anchor="middle">+</text>
<rect x="112.20" y="307.56" width="15.10" height="89.24" fill="#000"/>
<line x1="119.75" y1="300.70" x2="119.75" y2="307.56" stroke="#000" stroke-width="1.3" stroke-linecap="butt"/>
<line x1="115.75" y1="300.70" x2="123.75" y2="300.70" stroke="#000" stroke-width="1.4" stroke-linecap="butt"/>
<line x1="141.30" y1="367.98" x2="141.30" y2="370.42" stroke="#000" stroke-width="1.3" stroke-linecap="butt"/>
<line x1="137.30" y1="367.98" x2="145.30" y2="367.98" stroke="#000" stroke-width="1.4" stroke-linecap="butt"/>
<rect x="134.35" y="371.07" width="13.90" height="25.73" fill="#c2c2c2" stroke="#000" stroke-width="1.3"/>
<line x1="130.50" y1="396.80" x2="130.50" y2="401.00" stroke="#000" stroke-width="1.2" stroke-linecap="butt"/>
<text class="dj" x="131.65" y="413.60" font-size="9.6" font-family='"DejaVu Sans", Verdana, sans-serif' text-anchor="middle">+</text>
<text class="dj" x="131.35" y="428.90" font-size="10" font-family='"DejaVu Sans", Verdana, sans-serif' text-anchor="middle">-</text>
<rect x="168.80" y="295.59" width="15.10" height="101.21" fill="#000"/>
<line x1="176.35" y1="284.55" x2="176.35" y2="295.59" stroke="#000" stroke-width="1.3" stroke-linecap="butt"/>
<line x1="172.35" y1="284.55" x2="180.35" y2="284.55" stroke="#000" stroke-width="1.4" stroke-linecap="butt"/>
<line x1="197.90" y1="334.05" x2="197.90" y2="339.28" stroke="#000" stroke-width="1.3" stroke-linecap="butt"/>
<line x1="193.90" y1="334.05" x2="201.90" y2="334.05" stroke="#000" stroke-width="1.4" stroke-linecap="butt"/>
<rect x="190.95" y="339.93" width="13.90" height="56.87" fill="#c2c2c2" stroke="#000" stroke-width="1.3"/>
<line x1="187.10" y1="396.80" x2="187.10" y2="401.00" stroke="#000" stroke-width="1.2" stroke-linecap="butt"/>
<text class="dj" x="188.55" y="413.60" font-size="9.6" font-family='"DejaVu Sans", Verdana, sans-serif' text-anchor="middle">+</text>
<text class="dj" x="188.55" y="429.20" font-size="9.6" font-family='"DejaVu Sans", Verdana, sans-serif' text-anchor="middle">+</text>
<rect x="225.40" y="310.00" width="15.10" height="86.80" fill="#000"/>
<line x1="232.95" y1="290.83" x2="232.95" y2="310.00" stroke="#000" stroke-width="1.3" stroke-linecap="butt"/>
<line x1="228.95" y1="290.83" x2="236.95" y2="290.83" stroke="#000" stroke-width="1.4" stroke-linecap="butt"/>
<line x1="254.50" y1="363.68" x2="254.50" y2="366.82" stroke="#000" stroke-width="1.3" stroke-linecap="butt"/>
<line x1="250.50" y1="363.68" x2="258.50" y2="363.68" stroke="#000" stroke-width="1.4" stroke-linecap="butt"/>
<rect x="247.55" y="367.47" width="13.90" height="29.33" fill="#c2c2c2" stroke="#000" stroke-width="1.3"/>
<line x1="243.70" y1="396.80" x2="243.70" y2="401.00" stroke="#000" stroke-width="1.2" stroke-linecap="butt"/>
<text class="dj" x="245.45" y="413.60" font-size="9.6" font-family='"DejaVu Sans", Verdana, sans-serif' text-anchor="middle">+</text>
<text class="dj" x="245.15" y="428.90" font-size="10" font-family='"DejaVu Sans", Verdana, sans-serif' text-anchor="middle">-</text>
<rect x="282.10" y="272.58" width="15.10" height="124.22" fill="#000"/>
<line x1="289.65" y1="257.01" x2="289.65" y2="272.58" stroke="#000" stroke-width="1.3" stroke-linecap="butt"/>
<line x1="285.65" y1="257.01" x2="293.65" y2="257.01" stroke="#000" stroke-width="1.4" stroke-linecap="butt"/>
<line x1="311.20" y1="330.57" x2="311.20" y2="334.40" stroke="#000" stroke-width="1.3" stroke-linecap="butt"/>
<line x1="307.20" y1="330.57" x2="315.20" y2="330.57" stroke="#000" stroke-width="1.4" stroke-linecap="butt"/>
<rect x="304.25" y="335.05" width="13.90" height="61.75" fill="#c2c2c2" stroke="#000" stroke-width="1.3"/>
<line x1="300.40" y1="396.80" x2="300.40" y2="401.00" stroke="#000" stroke-width="1.2" stroke-linecap="butt"/>
<text class="dj" x="302.35" y="413.60" font-size="9.6" font-family='"DejaVu Sans", Verdana, sans-serif' text-anchor="middle">+</text>
<text class="dj" x="302.35" y="429.20" font-size="9.6" font-family='"DejaVu Sans", Verdana, sans-serif' text-anchor="middle">+</text>
<rect x="338.70" y="376.70" width="15.10" height="20.10" fill="#000"/>
<line x1="346.25" y1="373.33" x2="346.25" y2="376.70" stroke="#000" stroke-width="1.3" stroke-linecap="butt"/>
<line x1="342.25" y1="373.33" x2="350.25" y2="373.33" stroke="#000" stroke-width="1.4" stroke-linecap="butt"/>
<line x1="367.80" y1="378.21" x2="367.80" y2="379.25" stroke="#000" stroke-width="1.3" stroke-linecap="butt"/>
<line x1="363.80" y1="378.21" x2="371.80" y2="378.21" stroke="#000" stroke-width="1.4" stroke-linecap="butt"/>
<rect x="360.85" y="379.90" width="13.90" height="16.90" fill="#c2c2c2" stroke="#000" stroke-width="1.3"/>
<line x1="357.00" y1="396.80" x2="357.00" y2="401.00" stroke="#000" stroke-width="1.2" stroke-linecap="butt"/>
<text class="dj" x="359.25" y="413.60" font-size="9.6" font-family='"DejaVu Sans", Verdana, sans-serif' text-anchor="middle">+</text>
<text class="dj" x="358.95" y="428.90" font-size="10" font-family='"DejaVu Sans", Verdana, sans-serif' text-anchor="middle">-</text>
<rect x="395.40" y="361.59" width="15.10" height="35.21" fill="#000"/>
<line x1="402.95" y1="355.43" x2="402.95" y2="361.59" stroke="#000" stroke-width="1.3" stroke-linecap="butt"/>
<line x1="398.95" y1="355.43" x2="406.95" y2="355.43" stroke="#000" stroke-width="1.4" stroke-linecap="butt"/>
<line x1="424.50" y1="358.69" x2="424.50" y2="365.19" stroke="#000" stroke-width="1.3" stroke-linecap="butt"/>
<line x1="420.50" y1="358.69" x2="428.50" y2="358.69" stroke="#000" stroke-width="1.4" stroke-linecap="butt"/>
<rect x="417.55" y="365.84" width="13.90" height="30.96" fill="#c2c2c2" stroke="#000" stroke-width="1.3"/>
<line x1="413.70" y1="396.80" x2="413.70" y2="401.00" stroke="#000" stroke-width="1.2" stroke-linecap="butt"/>
<text class="dj" x="416.15" y="413.60" font-size="9.6" font-family='"DejaVu Sans", Verdana, sans-serif' text-anchor="middle">+</text>
<text class="dj" x="416.15" y="429.20" font-size="9.6" font-family='"DejaVu Sans", Verdana, sans-serif' text-anchor="middle">+</text>
<text x="444.00" y="413.40" font-size="10" font-family='"DejaVu Sans", Verdana, sans-serif' textLength="38" lengthAdjust="spacingAndGlyphs" class="dj" >PAR-AP</text>
<text x="443.80" y="429.40" font-size="10" font-family='"DejaVu Sans", Verdana, sans-serif' textLength="20.6" lengthAdjust="spacingAndGlyphs" class="dj" >ADP</text>
<line x1="113.30" y1="240.80" x2="146.80" y2="240.80" stroke="#000" stroke-width="1.3" stroke-linecap="butt"/>
<text class="dj" x="132.60" y="242.30" font-size="10.6" font-family='"DejaVu Sans", Verdana, sans-serif' text-anchor="middle" letter-spacing="1.45">***</text>
<line x1="171.30" y1="240.80" x2="205.00" y2="240.80" stroke="#000" stroke-width="1.3" stroke-linecap="butt"/>
<text class="dj" x="190.90" y="242.30" font-size="10.6" font-family='"DejaVu Sans", Verdana, sans-serif' text-anchor="middle" letter-spacing="1.45">***</text>
<line x1="226.80" y1="240.80" x2="260.00" y2="240.80" stroke="#000" stroke-width="1.3" stroke-linecap="butt"/>
<text class="dj" x="246.40" y="242.30" font-size="10.6" font-family='"DejaVu Sans", Verdana, sans-serif' text-anchor="middle" letter-spacing="1.45">**</text>
<line x1="282.50" y1="240.80" x2="316.30" y2="240.80" stroke="#000" stroke-width="1.3" stroke-linecap="butt"/>
<text class="dj" x="301.60" y="242.30" font-size="10.6" font-family='"DejaVu Sans", Verdana, sans-serif' text-anchor="middle" letter-spacing="1.45">***</text>
<line x1="339.30" y1="241.20" x2="373.00" y2="241.20" stroke="#000" stroke-width="1.3" stroke-linecap="butt"/>
<text x="354.10" y="238.60" font-size="11" font-family='"Liberation Sans", Arial, sans-serif' text-anchor="middle" >ns</text>
<line x1="397.00" y1="240.60" x2="430.50" y2="240.60" stroke="#000" stroke-width="1.3" stroke-linecap="butt"/>
<text x="412.10" y="238.30" font-size="11" font-family='"Liberation Sans", Arial, sans-serif' text-anchor="middle" >ns</text>
<line x1="225.50" y1="222.20" x2="320.00" y2="222.20" stroke="#000" stroke-width="1.3" stroke-linecap="butt"/>
<line x1="339.30" y1="222.50" x2="426.30" y2="222.50" stroke="#000" stroke-width="1.3" stroke-linecap="butt"/>
<text x="245.00" y="217.00" font-size="10.2" font-family='"Liberation Sans", Arial, sans-serif' textLength="54.4" lengthAdjust="spacingAndGlyphs" >+ MRS2279</text>
<text x="340.00" y="217.00" font-size="10.1" font-family='"Liberation Sans", Arial, sans-serif' textLength="79.6" lengthAdjust="spacingAndGlyphs" >+ AR-C 69931MX</text>
<rect x="427.00" y="272.60" width="26.60" height="6.40" fill="#000"/>
<rect x="427.55" y="288.15" width="25.50" height="5.80" fill="#c3c3c3" stroke="#000" stroke-width="1.1"/>
<text x="458.00" y="279.00" font-size="9.6" font-family='"DejaVu Sans", Verdana, sans-serif' textLength="15" lengthAdjust="spacingAndGlyphs" class="dj" >WT</text>
<text class="dj" x="458.00" y="294.90" font-size="10" font-style="italic" font-family='"DejaVu Sans", Verdana, sans-serif' textLength="39" lengthAdjust="spacingAndGlyphs">Unc13d</text>
<text class="dj" x="499.40" y="289.90" font-size="10" font-style="italic" font-family='"DejaVu Sans", Verdana, sans-serif' textLength="18.4" lengthAdjust="spacingAndGlyphs">Jinx</text>
<line x1="45.80" y1="488.10" x2="45.80" y2="584.55" stroke="#000" stroke-width="1.3" stroke-linecap="butt"/>
<line x1="41.20" y1="583.90" x2="250.20" y2="583.90" stroke="#000" stroke-width="1.3" stroke-linecap="butt"/>
<line x1="41.20" y1="583.90" x2="45.80" y2="583.90" stroke="#000" stroke-width="1.2" stroke-linecap="butt"/>
<text x="39.20" y="587.10" font-size="10.1" font-family='"Liberation Sans", Arial, sans-serif' text-anchor="end" >0</text>
<line x1="41.20" y1="564.95" x2="45.80" y2="564.95" stroke="#000" stroke-width="1.2" stroke-linecap="butt"/>
<text x="39.20" y="568.15" font-size="10.1" font-family='"Liberation Sans", Arial, sans-serif' text-anchor="end" >10</text>
<line x1="41.20" y1="546.00" x2="45.80" y2="546.00" stroke="#000" stroke-width="1.2" stroke-linecap="butt"/>
<text x="39.20" y="549.20" font-size="10.1" font-family='"Liberation Sans", Arial, sans-serif' text-anchor="end" >20</text>
<line x1="41.20" y1="527.05" x2="45.80" y2="527.05" stroke="#000" stroke-width="1.2" stroke-linecap="butt"/>
<text x="39.20" y="530.25" font-size="10.1" font-family='"Liberation Sans", Arial, sans-serif' text-anchor="end" >30</text>
<line x1="41.20" y1="508.10" x2="45.80" y2="508.10" stroke="#000" stroke-width="1.2" stroke-linecap="butt"/>
<text x="39.20" y="511.30" font-size="10.1" font-family='"Liberation Sans", Arial, sans-serif' text-anchor="end" >40</text>
<line x1="41.20" y1="489.15" x2="45.80" y2="489.15" stroke="#000" stroke-width="1.2" stroke-linecap="butt"/>
<text x="39.20" y="492.35" font-size="10.1" font-family='"Liberation Sans", Arial, sans-serif' text-anchor="end" >50</text>
<text transform="translate(22.0,534.3) rotate(-90)" font-size="10.4" font-family='"Liberation Sans", Arial, sans-serif' text-anchor="middle">PF4 release (% of total)</text>
<rect x="55.60" y="581.44" width="14.10" height="2.46" fill="#000"/>
<rect x="75.65" y="581.52" width="12.80" height="2.38" fill="#c2c2c2" stroke="#000" stroke-width="1.3"/>
<line x1="72.00" y1="583.90" x2="72.00" y2="586.70" stroke="#000" stroke-width="1.2" stroke-linecap="butt"/>
<text class="dj" x="72.60" y="599.60" font-size="10" font-family='"DejaVu Sans", Verdana, sans-serif' text-anchor="middle">-</text>
<text class="dj" x="72.60" y="615.40" font-size="10" font-family='"DejaVu Sans", Verdana, sans-serif' text-anchor="middle">-</text>
<rect x="106.10" y="581.63" width="14.10" height="2.27" fill="#000"/>
<rect x="126.15" y="582.09" width="12.80" height="1.81" fill="#c2c2c2" stroke="#000" stroke-width="1.3"/>
<line x1="122.50" y1="583.90" x2="122.50" y2="586.70" stroke="#000" stroke-width="1.2" stroke-linecap="butt"/>
<text class="dj" x="123.10" y="598.10" font-size="10" font-family='"DejaVu Sans", Verdana, sans-serif' text-anchor="middle">-</text>
<text class="dj" x="123.40" y="615.70" font-size="9.6" font-family='"DejaVu Sans", Verdana, sans-serif' text-anchor="middle">+</text>
<rect x="156.60" y="503.36" width="14.10" height="80.54" fill="#000"/>
<line x1="163.65" y1="497.49" x2="163.65" y2="503.36" stroke="#000" stroke-width="1.3" stroke-linecap="butt"/>
<line x1="159.65" y1="497.49" x2="167.65" y2="497.49" stroke="#000" stroke-width="1.4" stroke-linecap="butt"/>
<line x1="183.05" y1="543.35" x2="183.05" y2="547.52" stroke="#000" stroke-width="1.3" stroke-linecap="butt"/>
<line x1="179.05" y1="543.35" x2="187.05" y2="543.35" stroke="#000" stroke-width="1.4" stroke-linecap="butt"/>
<rect x="176.65" y="548.17" width="12.80" height="35.73" fill="#c2c2c2" stroke="#000" stroke-width="1.3"/>
<line x1="173.00" y1="583.90" x2="173.00" y2="586.70" stroke="#000" stroke-width="1.2" stroke-linecap="butt"/>
<text class="dj" x="173.90" y="599.90" font-size="9.6" font-family='"DejaVu Sans", Verdana, sans-serif' text-anchor="middle">+</text>
<text class="dj" x="173.60" y="615.40" font-size="10" font-family='"DejaVu Sans", Verdana, sans-serif' text-anchor="middle">-</text>
<rect x="207.20" y="501.09" width="14.10" height="82.81" fill="#000"/>
<line x1="214.25" y1="498.62" x2="214.25" y2="501.09" stroke="#000" stroke-width="1.3" stroke-linecap="butt"/>
<line x1="210.25" y1="498.62" x2="218.25" y2="498.62" stroke="#000" stroke-width="1.4" stroke-linecap="butt"/>
<line x1="233.65" y1="514.35" x2="233.65" y2="518.14" stroke="#000" stroke-width="1.3" stroke-linecap="butt"/>
<line x1="229.65" y1="514.35" x2="237.65" y2="514.35" stroke="#000" stroke-width="1.4" stroke-linecap="butt"/>
<rect x="227.25" y="518.79" width="12.80" height="65.11" fill="#c2c2c2" stroke="#000" stroke-width="1.3"/>
<line x1="223.60" y1="583.90" x2="223.60" y2="586.70" stroke="#000" stroke-width="1.2" stroke-linecap="butt"/>
<text class="dj" x="224.50" y="599.90" font-size="9.6" font-family='"DejaVu Sans", Verdana, sans-serif' text-anchor="middle">+</text>
<text class="dj" x="224.50" y="615.70" font-size="9.6" font-family='"DejaVu Sans", Verdana, sans-serif' text-anchor="middle">+</text>
<text x="247.50" y="598.70" font-size="10" font-family='"DejaVu Sans", Verdana, sans-serif' textLength="38.2" lengthAdjust="spacingAndGlyphs" class="dj" >PAR-AP</text>
<text x="247.50" y="614.50" font-size="10" font-family='"DejaVu Sans", Verdana, sans-serif' textLength="20" lengthAdjust="spacingAndGlyphs" class="dj" >ADP</text>
<line x1="155.30" y1="474.50" x2="188.30" y2="474.50" stroke="#000" stroke-width="1.3" stroke-linecap="butt"/>
<text class="dj" x="177.60" y="476.30" font-size="10.6" font-family='"DejaVu Sans", Verdana, sans-serif' text-anchor="middle" letter-spacing="1.45">***</text>
<line x1="208.20" y1="474.50" x2="241.30" y2="474.50" stroke="#000" stroke-width="1.3" stroke-linecap="butt"/>
<text class="dj" x="227.90" y="476.30" font-size="10.6" font-family='"DejaVu Sans", Verdana, sans-serif' text-anchor="middle" letter-spacing="1.45">**</text>
<rect x="274.40" y="489.00" width="26.60" height="6.40" fill="#000"/>
<rect x="274.95" y="504.55" width="25.50" height="5.80" fill="#c3c3c3" stroke="#000" stroke-width="1.1"/>
<text x="304.50" y="495.00" font-size="9.6" font-family='"DejaVu Sans", Verdana, sans-serif' textLength="15" lengthAdjust="spacingAndGlyphs" class="dj" >WT</text>
<text class="dj" x="304.50" y="510.90" font-size="10" font-style="italic" font-family='"DejaVu Sans", Verdana, sans-serif' textLength="39" lengthAdjust="spacingAndGlyphs">Unc13d</text>
<text class="dj" x="345.90" y="505.90" font-size="10" font-style="italic" font-family='"DejaVu Sans", Verdana, sans-serif' textLength="18.4" lengthAdjust="spacingAndGlyphs">Jinx</text>
</svg>
</body></html>
